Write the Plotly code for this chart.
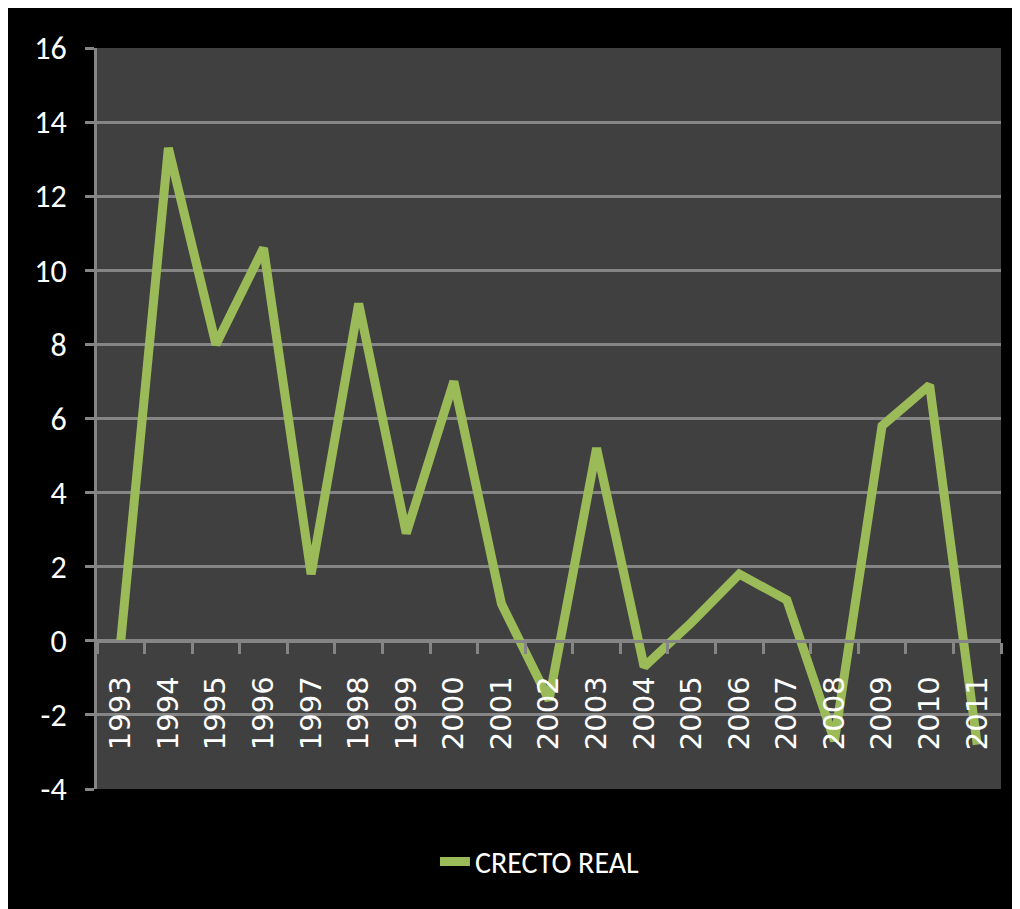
import plotly.graph_objects as go

years = ["1993", "1994", "1995", "1996", "1997", "1998", "1999", "2000", "2001", "2002",
         "2003", "2004", "2005", "2006", "2007", "2008", "2009", "2010", "2011"]
crecto_real = [0.0, 13.3, 8.0, 10.6, 1.8, 9.1, 2.9, 7.0, 1.0, -1.6,
               5.2, -0.7, 0.5, 1.8, 1.1, -2.7, 5.8, 6.9, -2.8]
y_ticks = [-4, -2, 0, 2, 4, 6, 8, 10, 12, 14, 16]
y_ticktext = ["-4", "-2", "0", "2", "4", "6", "8", "10", "12", "14", "16"]

fig = go.Figure()
fig.add_trace(go.Scatter(
    x=years, y=crecto_real, mode="lines", name="CRECTO REAL",
    line=dict(color="#9BBB59", width=9),
))

grid = "#858585"
calibri = "Carlito, Liberation Sans Narrow, Lato"
L = 89
W = 904
fig.update_layout(
    width=1020, height=909,
    paper_bgcolor="black", plot_bgcolor="#404040",
    margin=dict(l=L, r=1020 - L - W, t=40, b=128),
    showlegend=True,
    legend=dict(orientation="h", x=0.49, xanchor="center", y=-0.098, yanchor="middle",
                font=dict(family=calibri, size=30, color="white"),
                bgcolor="rgba(0,0,0,0)"),
    xaxis=dict(
        type="category", anchor="free", position=0.2,
        showline=True, linecolor=grid, linewidth=3,
        ticks="outside", ticklen=11, tickwidth=3, tickcolor=grid,
        tickson="boundaries", tickangle=-90, ticklabelstandoff=22,
        showgrid=False, zeroline=False, automargin=False,
        tickfont=dict(family="DejaVu Sans", size=29, color="white"),
        range=[-0.5, len(years) - 0.5],
    ),
    yaxis=dict(
        range=[-4, 16], tickvals=y_ticks, ticktext=y_ticktext,
        showline=True, linecolor=grid, linewidth=3,
        ticks="outside", ticklen=9, tickwidth=3, tickcolor=grid,
        ticklabelstandoff=12,
        showgrid=True, gridcolor=grid, gridwidth=3, zeroline=False,
        tickfont=dict(family=calibri, size=32, color="white"),
    ),
)

fig.write_html("out.html")
